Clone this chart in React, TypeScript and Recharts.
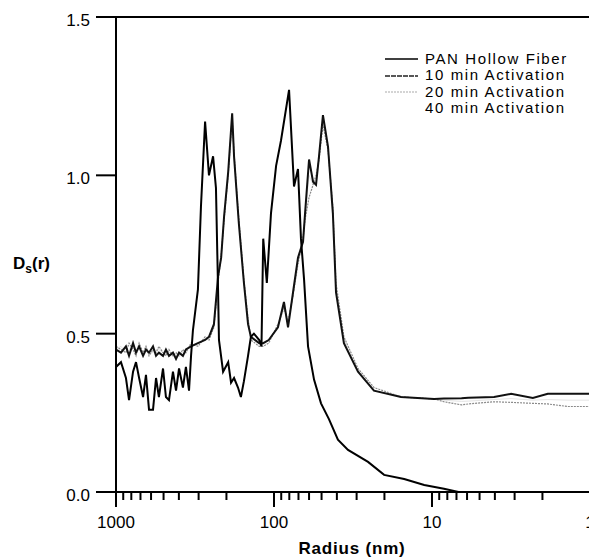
import React from "react";
import { LineChart, Line, XAxis, YAxis, ReferenceLine, Legend } from "recharts";

// radius (nm) and D_s(r)
const panRadius = [1000, 930, 865, 827, 780, 747, 714, 674, 646, 618, 583, 558, 535, 504, 483, 462, 436, 417, 399, 377, 361, 345, 335, 326, 303, 290, 273, 258, 243, 233, 226, 223, 210, 195, 187, 179, 169, 162, 155, 146, 140, 134, 124, 120, 117, 111, 104.5, 97, 90.3, 80.3, 74.7, 70.5, 67.5, 64.5, 60.9, 55.8, 50.4, 44.9, 39.4, 34, 25.4, 20.1, 15, 11.2, 8.4, 6.8, 1];
const panValues = [0.395, 0.41, 0.36, 0.29, 0.38, 0.41, 0.36, 0.3, 0.37, 0.26, 0.26, 0.36, 0.3, 0.39, 0.3, 0.29, 0.38, 0.32, 0.39, 0.33, 0.395, 0.32, 0.43, 0.51, 0.64, 0.9, 1.17, 1.0, 1.06, 0.96, 0.64, 0.48, 0.38, 0.41, 0.345, 0.36, 0.33, 0.3, 0.35, 0.43, 0.49, 0.5, 0.48, 0.46, 0.8, 0.66, 0.88, 1.03, 1.11, 1.27, 0.965, 1.02, 0.8, 0.67, 0.46, 0.355, 0.28, 0.23, 0.165, 0.133, 0.095, 0.054, 0.041, 0.022, 0.01, 0, 0];

const actRadius = [1000, 930, 865, 827, 780, 747, 714, 674, 646, 618, 583, 558, 535, 504, 483, 462, 436, 417, 399, 377, 361, 335, 303, 273, 258, 240, 226, 216, 207, 195, 184, 179, 167, 155, 146, 140, 124, 117, 108, 94.4, 86.5, 81.5, 75.8, 70.5, 65.5, 63.6, 60, 56.6, 54.2, 51.9, 49, 45.5, 42.4, 40.5, 36.1, 29.4, 23.3, 15.7, 9.7, 8.4, 6.5, 5.9, 4.05, 3.16, 2.3, 1.85, 1.38, 1];
const min10Values = [0.45, 0.44, 0.46, 0.43, 0.47, 0.44, 0.46, 0.43, 0.45, 0.44, 0.46, 0.43, 0.44, 0.43, 0.45, 0.43, 0.44, 0.42, 0.44, 0.43, 0.45, 0.46, 0.47, 0.48, 0.49, 0.53, 0.68, 0.74, 0.87, 1.01, 1.196, 1.06, 0.85, 0.66, 0.53, 0.49, 0.47, 0.47, 0.48, 0.52, 0.6, 0.52, 0.63, 0.74, 0.79, 0.88, 1.05, 0.98, 0.97, 1.06, 1.19, 1.09, 0.88, 0.63, 0.47, 0.38, 0.32, 0.3, 0.294, 0.295, 0.296, 0.298, 0.3, 0.31, 0.297, 0.31, 0.31, 0.31];
const min20Values = [0.46, 0.45, 0.44, 0.47, 0.45, 0.43, 0.47, 0.44, 0.46, 0.43, 0.45, 0.44, 0.46, 0.44, 0.43, 0.45, 0.43, 0.44, 0.43, 0.45, 0.44, 0.47, 0.46, 0.49, 0.48, 0.52, 0.66, 0.75, 0.86, 1.0, 1.18, 1.07, 0.86, 0.67, 0.55, 0.48, 0.46, 0.46, 0.47, 0.53, 0.58, 0.54, 0.62, 0.72, 0.8, 0.86, 0.93, 0.97, 1.0, 1.05, 1.16, 1.08, 0.9, 0.66, 0.49, 0.39, 0.33, 0.3, 0.294, 0.285, 0.275, 0.278, 0.285, 0.283, 0.28, 0.278, 0.27, 0.27];
const min40Values = [0.45, 0.46, 0.44, 0.45, 0.46, 0.44, 0.45, 0.44, 0.46, 0.44, 0.44, 0.45, 0.45, 0.44, 0.44, 0.44, 0.44, 0.43, 0.44, 0.44, 0.45, 0.46, 0.47, 0.48, 0.49, 0.52, 0.67, 0.74, 0.86, 1.0, 1.19, 1.06, 0.85, 0.66, 0.54, 0.49, 0.47, 0.47, 0.48, 0.52, 0.59, 0.53, 0.62, 0.73, 0.79, 0.87, 1.0, 0.97, 0.98, 1.05, 1.18, 1.08, 0.89, 0.64, 0.48, 0.38, 0.32, 0.3, 0.294, 0.29, 0.286, 0.287, 0.292, 0.295, 0.29, 0.292, 0.29, 0.29];

const radiusTicks = [1, 2, 3, 4, 5, 6, 7, 8, 9, 10, 20, 30, 40, 50, 60, 70, 80, 90, 100, 200, 300, 400, 500, 600, 700, 800, 900, 1000];
const decadeTicks = [1, 10, 100, 1000];
const dsTicks = [0, 0.5, 1.0, 1.5];

const seriesNames = ["PAN Hollow Fiber", "10 min Activation", "20 min Activation", "40 min Activation"];

const toPoints = (rs: number[], vs: number[]) => rs.map((r, i) => ({ r, v: vs[i] }));

const series = [
  { name: seriesNames[3], data: toPoints(actRadius, min40Values), stroke: "#e4e4e4", width: 1, dash: undefined },
  { name: seriesNames[2], data: toPoints(actRadius, min20Values), stroke: "#8a8a8a", width: 1.2, dash: "2 1" },
  { name: seriesNames[1], data: toPoints(actRadius, min10Values), stroke: "#111", width: 2, dash: undefined },
  { name: seriesNames[0], data: toPoints(panRadius, panValues), stroke: "#000", width: 2, dash: undefined },
];

const FONT = "'Liberation Sans', Arial, Helvetica, sans-serif";

const RadiusTick = (props: any) => {
  const { x, y, payload } = props;
  const major = decadeTicks.includes(payload.value);
  return (
    <g>
      <line x1={x} x2={x} y1={y} y2={y + (major ? 15 : 8)} stroke="#000" strokeWidth={2} />
      {major && (
        <text x={x} y={y + 36} textAnchor="middle" fontSize={17} fontFamily={FONT} fill="#000">
          {payload.value}
        </text>
      )}
    </g>
  );
};

const DsTick = (props: any) => {
  const { x, y, payload } = props;
  return (
    <text x={x} y={y + 9} textAnchor="end" fontSize={17} fontFamily={FONT} fill="#000">
      {payload.value.toFixed(1)}
    </text>
  );
};

const LegendBox = () => {
  const rows = [
    { name: seriesNames[0], stroke: "#000", dash: undefined, width: 1.6 },
    { name: seriesNames[1], stroke: "#222", dash: "5 1", width: 1.6 },
    { name: seriesNames[2], stroke: "#aaa", dash: "2 1", width: 1.2 },
    { name: seriesNames[3], stroke: "#fff", dash: undefined, width: 1 },
  ];
  return (
    <div style={{ fontFamily: FONT, fontSize: 15, lineHeight: "16.4px", color: "#000" }}>
      {rows.map((row) => (
        <div key={row.name} style={{ display: "flex", alignItems: "center", height: 16.4, whiteSpace: "nowrap" }}>
          <svg width={40} height={10} style={{ flexShrink: 0 }}>
            <line x1={0} x2={33} y1={5} y2={5} stroke={row.stroke} strokeWidth={row.width} strokeDasharray={row.dash} />
          </svg>
          <span style={{ letterSpacing: 1.6 }}>{row.name}</span>
        </div>
      ))}
    </div>
  );
};

export default function App() {
  return (
    <div style={{ position: "absolute", left: 0, top: 0, width: 589, height: 560, overflow: "hidden", background: "#fff", fontFamily: FONT }}>
      <LineChart width={600} height={560} margin={{ top: 17, right: 10, bottom: 0, left: 0 }}>
        <XAxis
          dataKey="r"
          type="number"
          scale="log"
          domain={[1, 1000]}
          reversed
          allowDataOverflow
          ticks={radiusTicks}
          interval={0}
          tick={<RadiusTick />}
          tickLine={false}
          tickSize={0}
          tickMargin={0}
          height={68}
          axisLine={{ stroke: "#000", strokeWidth: 2 }}
          label={(p: any) => (
            <text x={352} y={554} textAnchor="middle" fontSize={17} fontWeight="bold" fontFamily={FONT} fill="#000" letterSpacing={0.8}>
              Radius (nm)
            </text>
          )}
        />
        <YAxis
          type="number"
          domain={[0, 1.5]}
          ticks={dsTicks}
          interval={0}
          width={116}
          tickSize={20}
          tickMargin={6}
          tick={<DsTick />}
          tickLine={{ stroke: "#000", strokeWidth: 2 }}
          axisLine={{ stroke: "#000", strokeWidth: 2 }}
          label={(p: any) => (
            <text x={13} y={269} fontSize={17} fontWeight="bold" fontFamily={FONT} fill="#000">
              D
              <tspan fontSize={12} dy={4}>s</tspan>
              <tspan dy={-4}>(r)</tspan>
            </text>
          )}
        />
        <ReferenceLine y={1.5} stroke="#000" strokeWidth={2} />
        <Legend
          layout="vertical"
          align="center"
          verticalAlign="middle"
          content={<LegendBox />}
          wrapperStyle={{ position: "absolute", left: 385, top: 51, width: "auto" }}
        />
        {series.map((s) => (
          <Line
            key={s.name}
            name={s.name}
            data={s.data}
            dataKey="v"
            type="linear"
            stroke={s.stroke}
            strokeWidth={s.width}
            strokeDasharray={s.dash}
            dot={false}
            activeDot={false}
            isAnimationActive={false}
          />
        ))}
      </LineChart>
    </div>
  );
}
